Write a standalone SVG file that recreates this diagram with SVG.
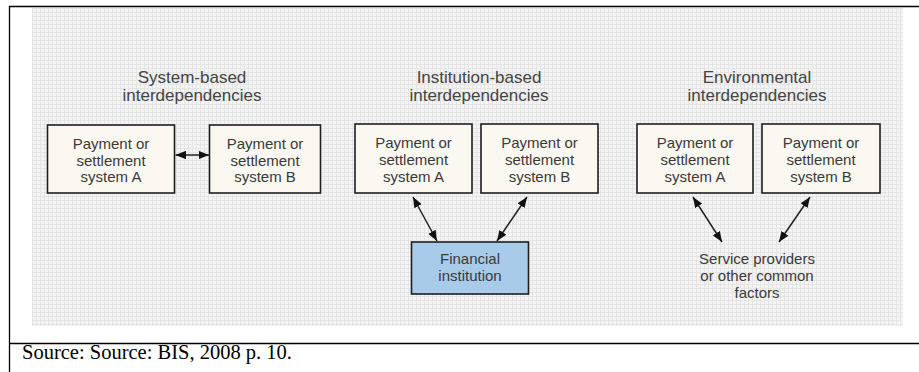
<svg xmlns="http://www.w3.org/2000/svg" width="919" height="372" viewBox="0 0 919 372">
  <defs>
    <pattern id="grid" width="4" height="4" patternUnits="userSpaceOnUse">
      <rect width="4" height="4" fill="#f4f4f4"/>
      <path d="M0.5,0 V4 M0,0.5 H4" stroke="#e5e5e5" stroke-width="1"/>
    </pattern>
    <marker id="head" viewBox="0 0 10 8" refX="10" refY="4" markerWidth="10.5" markerHeight="8.5" markerUnits="userSpaceOnUse" orient="auto-start-reverse">
      <path d="M0,0 L10,4 L0,8 z" fill="#111"/>
    </marker>
    <style>
      .box { fill: #fbf8f1; stroke: #1e1e1e; stroke-width: 1.6; }
      .fin { fill: #a9cbea; stroke: #1e1e1e; stroke-width: 1.6; }
      .lbl { font-family: "Liberation Sans", Arial, sans-serif; font-size: 15px; fill: #3a3a3a; text-anchor: middle; }
      .head { font-family: "Liberation Sans", Arial, sans-serif; font-size: 17px; fill: #444; text-anchor: middle; }
      .src { font-family: "Liberation Serif", "Times New Roman", serif; font-size: 20.5px; fill: #000; }
      .link { stroke: #222; stroke-width: 1.5; fill: none; marker-start: url(#head); marker-end: url(#head); }
      .frame { stroke: #000; stroke-width: 1.3; fill: none; }
    </style>
  </defs>

  <rect width="919" height="372" fill="#fff"/>
  <!-- figure background -->
  <rect x="32" y="8" width="871" height="318" fill="url(#grid)"/>

  <!-- frame and source line -->
  <path class="frame" d="M9.5,372 V6.5 H919 M9.5,343.5 H919"/>
  <text class="src" x="22" y="359">Source: Source: BIS, 2008 p. 10.</text>

  <!-- group headings -->
  <g id="heading-system">
    <text class="head" x="192" y="83">System-based</text>
    <text class="head" x="192" y="101">interdependencies</text>
  </g>
  <g id="heading-institution">
    <text class="head" x="479" y="83">Institution-based</text>
    <text class="head" x="479" y="101">interdependencies</text>
  </g>
  <g id="heading-environment">
    <text class="head" x="757" y="83">Environmental</text>
    <text class="head" x="757" y="101">interdependencies</text>
  </g>

  <!-- connectors -->
  <g id="connectors">
    <line class="link" x1="175.5" y1="155" x2="209" y2="155"/>
    <line class="link" x1="413" y1="197" x2="437" y2="241"/>
    <line class="link" x1="527" y1="197" x2="497" y2="241"/>
    <line class="link" x1="693" y1="197" x2="722" y2="242"/>
    <line class="link" x1="810" y1="197" x2="779" y2="242"/>
  </g>

  <!-- system-based -->
  <g id="sys-a">
    <rect class="box" x="47.5" y="125" width="127" height="68"/>
    <text class="lbl" x="111" y="149">Payment or</text>
    <text class="lbl" x="111" y="166">settlement</text>
    <text class="lbl" x="111" y="182">system A</text>
  </g>
  <g id="sys-b">
    <rect class="box" x="209.5" y="125" width="111" height="68"/>
    <text class="lbl" x="265" y="149">Payment or</text>
    <text class="lbl" x="265" y="166">settlement</text>
    <text class="lbl" x="265" y="182">system B</text>
  </g>

  <!-- institution-based -->
  <g id="inst-a">
    <rect class="box" x="355" y="124" width="117" height="69"/>
    <text class="lbl" x="413.5" y="148">Payment or</text>
    <text class="lbl" x="413.5" y="165">settlement</text>
    <text class="lbl" x="413.5" y="182">system A</text>
  </g>
  <g id="inst-b">
    <rect class="box" x="481" y="124" width="117" height="69"/>
    <text class="lbl" x="539.5" y="148">Payment or</text>
    <text class="lbl" x="539.5" y="165">settlement</text>
    <text class="lbl" x="539.5" y="182">system B</text>
  </g>
  <g id="financial-institution">
    <rect class="fin" x="411.5" y="242" width="117" height="52"/>
    <text class="lbl" x="470" y="264">Financial</text>
    <text class="lbl" x="470" y="281">institution</text>
  </g>

  <!-- environmental -->
  <g id="env-a">
    <rect class="box" x="637" y="124" width="116" height="69"/>
    <text class="lbl" x="695" y="148">Payment or</text>
    <text class="lbl" x="695" y="165">settlement</text>
    <text class="lbl" x="695" y="182">system A</text>
  </g>
  <g id="env-b">
    <rect class="box" x="762" y="124" width="118" height="69"/>
    <text class="lbl" x="821" y="148">Payment or</text>
    <text class="lbl" x="821" y="165">settlement</text>
    <text class="lbl" x="821" y="182">system B</text>
  </g>
  <g id="service-providers">
    <text class="lbl" x="757" y="264">Service providers</text>
    <text class="lbl" x="757" y="281">or other common</text>
    <text class="lbl" x="757" y="298">factors</text>
  </g>
</svg>
